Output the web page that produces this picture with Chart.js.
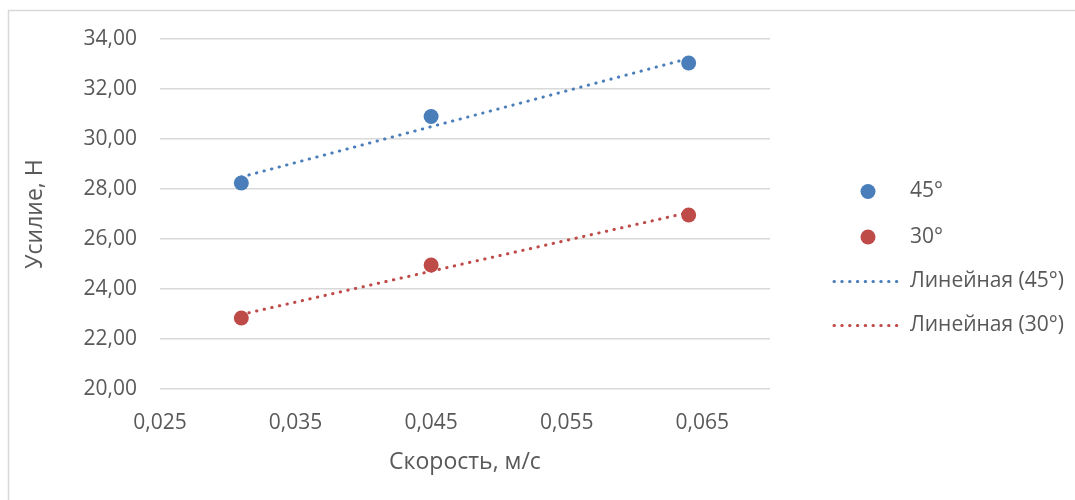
<!DOCTYPE html>
<html>
<head>
<meta charset="utf-8">
<script src="https://cdn.jsdelivr.net/npm/chart.js@4.4.1/dist/chart.umd.min.js"></script>
<style>
html,body{margin:0;padding:0;background:#fff;}
#wrap{width:1075px;height:500px;position:relative;}
</style>
</head>
<body>
<div id="wrap"><canvas id="c" width="1075" height="500"></canvas></div>
<script>
// ---- data ----
const speeds = [0.031, 0.045, 0.064];
const force45 = [28.24, 30.90, 33.04];
const force30 = [22.84, 24.96, 26.96];
const trendX = [0.031, 0.064];
const trend45 = [28.48, 33.22];
const trend30 = [22.98, 27.06];
const xTicks = [0.025, 0.035, 0.045, 0.055, 0.065];
const yTicks = [20, 22, 24, 26, 28, 30, 32, 34];
const seriesNames = ['45°', '30°', 'Линейная (45°)', 'Линейная (30°)'];
const xTitle = 'Скорость, м/с';
const yTitle = 'Усилие, Н';

const BLUE = '#4A7EBB';
const RED = '#BE4B48';
const TEXT = '#595959';
const GRID = '#D9D9D9';
const FONT = "'Open Sans', 'Liberation Sans', sans-serif";

const pts = (xs, ys) => xs.map((x, i) => ({x: x, y: ys[i]}));
const fmt = (v, d) => v.toFixed(d).replace('.', ',');

const frame = {
  id: 'frame',
  beforeDraw(chart) {
    const ctx = chart.ctx;
    ctx.save();
    ctx.fillStyle = '#fff';
    ctx.fillRect(0, 0, chart.width, chart.height);
    ctx.strokeStyle = GRID;
    ctx.lineWidth = 1.5;
    ctx.beginPath();
    ctx.moveTo(8.5, chart.height);
    ctx.lineTo(8.5, 10.5);
    ctx.lineTo(chart.width, 10.5);
    ctx.stroke();
    ctx.restore();
  }
};

const legendRows = [191.5, 237, 281.5, 325.5];
const customLegend = {
  id: 'customLegend',
  afterDraw(chart) {
    const ctx = chart.ctx;
    ctx.save();
    ctx.font = '21px ' + FONT;
    ctx.textBaseline = 'middle';
    ctx.textAlign = 'left';
    chart.data.datasets.forEach((ds, i) => {
      const y = legendRows[i];
      if (ds.showLine === false) {
        ctx.fillStyle = ds.backgroundColor;
        ctx.beginPath();
        ctx.arc(868, y, 7.5, 0, Math.PI * 2);
        ctx.fill();
      } else {
        ctx.strokeStyle = ds.borderColor;
        ctx.lineWidth = ds.borderWidth;
        ctx.lineCap = 'round';
        ctx.setLineDash(ds.borderDash);
        ctx.beginPath();
        ctx.moveTo(834, y);
        ctx.lineTo(900, y);
        ctx.stroke();
        ctx.setLineDash([]);
      }
      ctx.fillStyle = TEXT;
      ctx.fillText(ds.label, 910, y);
    });
    ctx.restore();
  }
};

new Chart(document.getElementById('c'), {
  type: 'scatter',
  data: {
    datasets: [
      {label: seriesNames[0], data: pts(speeds, force45), showLine: false,
       backgroundColor: BLUE, borderColor: BLUE, pointRadius: 7.5, pointBorderWidth: 0, order: 0},
      {label: seriesNames[1], data: pts(speeds, force30), showLine: false,
       backgroundColor: RED, borderColor: RED, pointRadius: 7.5, pointBorderWidth: 0, order: 0},
      {label: seriesNames[2], data: pts(trendX, trend45), showLine: true, type: 'line',
       borderColor: BLUE, backgroundColor: BLUE, borderWidth: 3, borderDash: [0.4, 7.4],
       borderCapStyle: 'round', pointRadius: 0, fill: false, order: 1},
      {label: seriesNames[3], data: pts(trendX, trend30), showLine: true, type: 'line',
       borderColor: RED, backgroundColor: RED, borderWidth: 3, borderDash: [0.4, 7.4],
       borderCapStyle: 'round', pointRadius: 0, fill: false, order: 1}
    ]
  },
  options: {
    responsive: false,
    animation: false,
    devicePixelRatio: 1,
    layout: {padding: {left: 0, top: 39, right: 305, bottom: 0}},
    plugins: {legend: {display: false}, tooltip: {enabled: false}},
    scales: {
      x: {
        type: 'linear', min: 0.025, max: 0.07,
        afterBuildTicks: (s) => { s.ticks = xTicks.map(v => ({value: v})); },
        afterFit: (s) => { s.height = 111; },
        grid: {display: false, drawTicks: false},
        border: {display: false},
        ticks: {color: TEXT, font: {size: 21, family: FONT}, padding: 21,
                callback: (v) => fmt(v, 3), maxRotation: 0, autoSkip: false},
        title: {display: true, text: xTitle, color: TEXT, font: {size: 23, family: FONT},
                padding: {top: 0, bottom: 24}}
      },
      y: {
        type: 'linear', min: 20, max: 34,
        afterBuildTicks: (s) => { s.ticks = yTicks.map(v => ({value: v})); },
        afterFit: (s) => { s.width = 160; },
        grid: {color: GRID, lineWidth: 1.5, drawTicks: false},
        border: {display: false},
        ticks: {color: TEXT, font: {size: 21, family: FONT}, padding: 23,
                callback: (v) => fmt(v, 2), autoSkip: false},
        title: {display: true, text: yTitle, color: TEXT, font: {size: 23, family: FONT},
                padding: {top: 22, bottom: 0}}
      }
    }
  },
  plugins: [frame, customLegend]
});
</script>
</body>
</html>
